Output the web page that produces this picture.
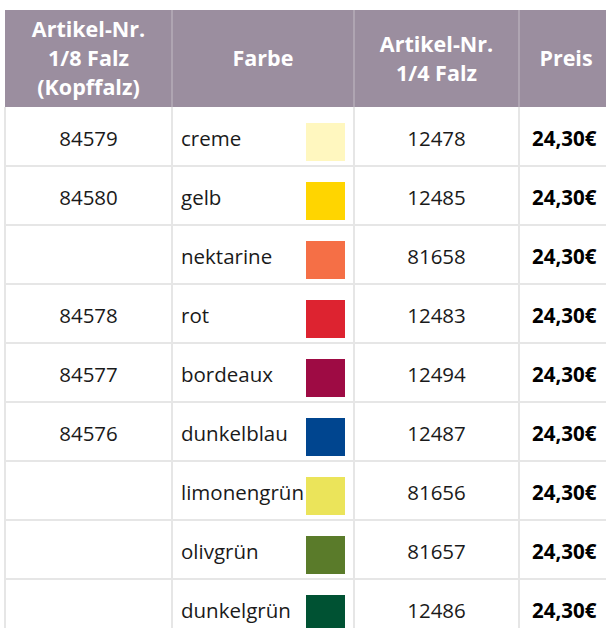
<!DOCTYPE html>
<html>
<head>
<meta charset="utf-8">
<script src="https://cdn.jsdelivr.net/npm/d3@7"></script>
<style>
  body { margin: 0; background: #fff; }
  svg { display: block; font-family: "Open Sans", sans-serif; }
</style>
</head>
<body>
<div id="chart"></div>
<script>
// table content
const headers = [
	["Artikel-Nr.", "1/8 Falz", "(Kopffalz)"],
	["Farbe"],
	["Artikel-Nr.", "1/4 Falz"],
	["Preis"],
];
const artikelKopf = ["84579", "84580", "", "84578", "84577", "84576", "", "", ""];
const farben = ["creme", "gelb", "nektarine", "rot", "bordeaux", "dunkelblau", "limonengrün", "olivgrün", "dunkelgrün"];
const farbCodes = ["#fff7bf", "#ffd500", "#f56f46", "#dd2330", "#9e0b44", "#00458f", "#ebe45a", "#5a7b2a", "#005233"];
const artikelViertel = ["12478", "12485", "81658", "12483", "12494", "12487", "81656", "81657", "12486"];
const preise = ["24,30€", "24,30€", "24,30€", "24,30€", "24,30€", "24,30€", "24,30€", "24,30€", "24,30€"];

const width = 606;
const height = 628;
const colEdges = [5, 172, 354, 519, 640];
const headTop = 10;
const headBottom = 107;
const rowH = 59;

const svg = d3
	.select("#chart")
	.append("svg")
	.attr("width", width)
	.attr("height", height);

const rowScale = d3
	.scaleBand()
	.domain(farben.map((d, i) => i))
	.range([headBottom, headBottom + rowH * farben.length]);

// header
svg.append("rect")
	.attr("x", colEdges[0])
	.attr("y", headTop)
	.attr("width", width - colEdges[0])
	.attr("height", headBottom - headTop)
	.attr("fill", "#9b8e9f");

svg.selectAll(".head-div")
	.data(colEdges.slice(1, 4))
	.enter()
	.append("line")
	.attr("class", "head-div")
	.attr("x1", (d) => d)
	.attr("x2", (d) => d)
	.attr("y1", headTop)
	.attr("y2", headBottom)
	.attr("stroke", "#b6acb9")
	.attr("stroke-width", 1.5);

const lineGap = 29;
const headMid = (headTop + headBottom) / 2;
headers.forEach((lines, c) => {
	const cx = (colEdges[c] + Math.min(colEdges[c + 1], width)) / 2;
	const x = c === 3 ? 566 : cx;
	svg.append("g")
		.selectAll("text")
		.data(lines)
		.enter()
		.append("text")
		.attr("x", x)
		.attr("y", (d, i) => headMid + 7.5 + (i - (lines.length - 1) / 2) * lineGap)
		.attr("text-anchor", "middle")
		.attr("font-size", "21.5px")
		.attr("font-weight", "bold")
		.attr("fill", "#fff")
		.text((d) => d);
});

// grid lines
svg.selectAll(".row-line")
	.data(farben.map((d, i) => i).slice(1))
	.enter()
	.append("line")
	.attr("x1", colEdges[0])
	.attr("x2", width)
	.attr("y1", (i) => rowScale(i))
	.attr("y2", (i) => rowScale(i))
	.attr("stroke", "#e6e6e6")
	.attr("stroke-width", 2);

svg.selectAll(".col-line")
	.data(colEdges.slice(0, 4))
	.enter()
	.append("line")
	.attr("x1", (d) => d)
	.attr("x2", (d) => d)
	.attr("y1", headBottom)
	.attr("y2", height)
	.attr("stroke", "#e6e6e6")
	.attr("stroke-width", 2);

// cells
const rows = svg
	.selectAll(".row")
	.data(farben)
	.enter()
	.append("g")
	.attr("class", "row")
	.attr("transform", (d, i) => `translate(0, ${rowScale(i)})`);

const baseY = 39;

rows.append("text")
	.attr("x", (colEdges[0] + colEdges[1]) / 2)
	.attr("y", baseY)
	.attr("text-anchor", "middle")
	.attr("font-size", "20.5px")
	.attr("fill", "#1a1a1a")
	.text((d, i) => artikelKopf[i]);

rows.append("text")
	.attr("x", colEdges[1] + 9)
	.attr("y", baseY)
	.attr("font-size", "20.5px")
	.attr("fill", "#1a1a1a")
	.text((d) => d);

rows.append("rect")
	.attr("x", 306)
	.attr("y", 16)
	.attr("width", 39)
	.attr("height", 38)
	.attr("fill", (d, i) => farbCodes[i]);

rows.append("text")
	.attr("x", (colEdges[2] + colEdges[3]) / 2)
	.attr("y", baseY)
	.attr("text-anchor", "middle")
	.attr("font-size", "20.5px")
	.attr("fill", "#1a1a1a")
	.text((d, i) => artikelViertel[i]);

rows.append("text")
	.attr("x", colEdges[3] + 13)
	.attr("y", baseY)
	.attr("font-size", "20.5px")
	.attr("font-weight", "bold")
	.attr("fill", "#000")
	.text((d, i) => preise[i]);
</script>
</body>
</html>
